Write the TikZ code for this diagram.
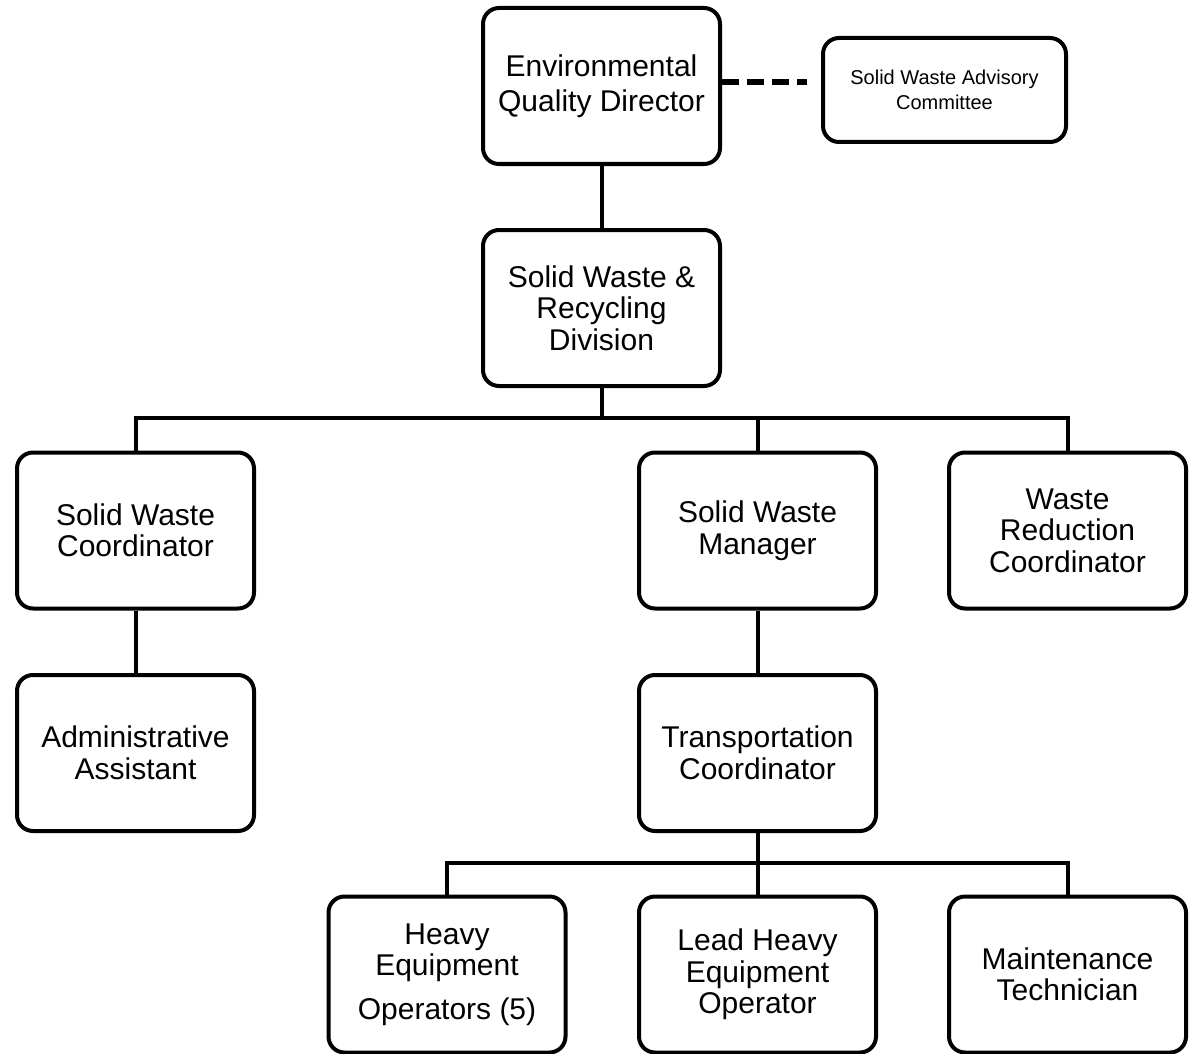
\documentclass[tikz,border=0pt]{standalone}
\usepackage{fontspec}
\setmainfont{Liberation Sans}
\begin{document}
\begin{tikzpicture}[x=1pt,y=-1pt,
  box/.style={draw,line width=4pt,rounded corners=16pt,minimum width=237pt,minimum height=156pt,
    align=center,inner sep=0pt,font=\fontsize{30}{31.5}\selectfont},
  link/.style={line width=4pt}]
\useasboundingbox (0,0) rectangle (1194,1054);
\node[box,font=\fontsize{30}{35}\selectfont] (eqd) at (601.5,86) {Environmental\\Quality Director};
\node[box,minimum width=243pt,minimum height=104pt,font=\fontsize{20}{25}\selectfont] (swac) at (944.5,90) {Solid Waste Advisory\\Committee};
\node[box] (swrd) at (601.5,308) {Solid Waste \&\\Recycling\\Division};
\node[box] (swc) at (135.5,530.5) {Solid Waste\\Coordinator};
\node[box] (swm) at (757.5,530.5) {Solid Waste\\Manager};
\node[box] (wrc) at (1067.5,530.5) {Waste\\Reduction\\Coordinator};
\node[box] (aa) at (135.5,753) {Administrative\\Assistant};
\node[box] (tc) at (757.5,753) {Transportation\\Coordinator};
\node[box] (heo) at (447,974.5) {Heavy\\Equipment\\[12pt]Operators (5)};
\node[box] (lheo) at (757.5,974.5) {Lead Heavy\\Equipment\\Operator};
\node[box] (mt) at (1067.5,974.5) {Maintenance\\Technician};
\coordinate (busA) at (0,418);
\coordinate (busB) at (0,863);
\coordinate (dashend) at (807,82);
\draw[line width=6pt,dash pattern=on 17pt off 8pt] (eqd.east |- dashend) -- (dashend);
\draw[link] (eqd.south) -- (swrd.north);
\draw[link] (swrd.south) -- (swrd.south |- busA);
\draw[link] (swc.north) |- (busA -| wrc.north) -- (wrc.north);
\draw[link] (swm.north) -- (swm.north |- busA);
\draw[link] (swc.south) -- (aa.north);
\draw[link] (swm.south) -- (tc.north);
\draw[link] (tc.south) -- (lheo.north);
\draw[link] (heo.north) |- (busB -| mt.north) -- (mt.north);
\end{tikzpicture}
\end{document}
